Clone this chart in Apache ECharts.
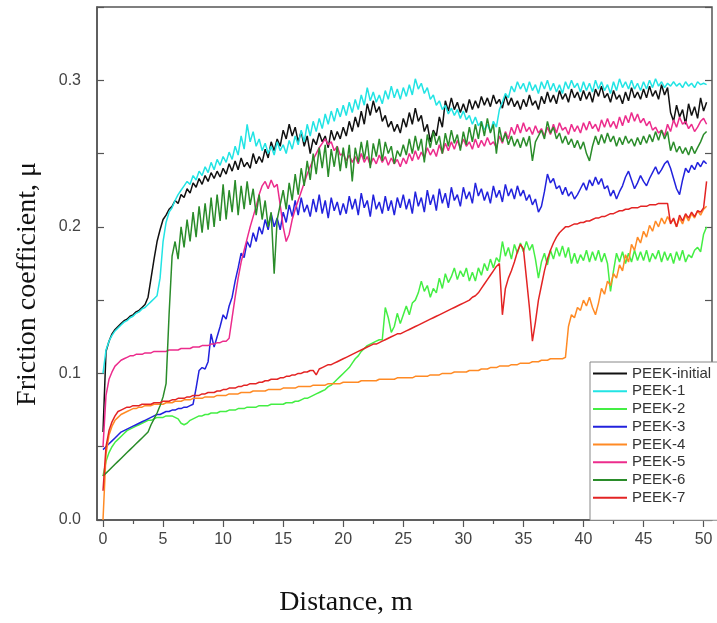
<!DOCTYPE html>
<html><head><meta charset="utf-8">
<script src="https://cdn.jsdelivr.net/npm/echarts@6/dist/echarts.min.js"></script>
<style>html,body{margin:0;padding:0;background:#fff}#c{width:717px;height:623px}</style>
</head><body><div id="c"></div>
<script>
// Sampling positions (m)
const distance = [
0,0.25,0.5,0.75,1,1.25,1.5,1.75,2,2.25,2.5,2.75,3,3.25,3.5,3.75,4,4.25,4.5,4.75,
5,5.25,5.5,5.75,6,6.25,6.5,6.75,7,7.25,7.5,7.75,8,8.25,8.5,8.75,9,9.25,9.5,9.75,
10,10.25,10.5,10.75,11,11.25,11.5,11.75,12,12.25,12.5,12.75,13,13.25,13.5,13.75,14,14.25,14.5,14.75,
15,15.25,15.5,15.75,16,16.25,16.5,16.75,17,17.25,17.5,17.75,18,18.25,18.5,18.75,19,19.25,19.5,19.75,
20,20.25,20.5,20.75,21,21.25,21.5,21.75,22,22.25,22.5,22.75,23,23.25,23.5,23.75,24,24.25,24.5,24.75,
25,25.25,25.5,25.75,26,26.25,26.5,26.75,27,27.25,27.5,27.75,28,28.25,28.5,28.75,29,29.25,29.5,29.75,
30,30.25,30.5,30.75,31,31.25,31.5,31.75,32,32.25,32.5,32.75,33,33.25,33.5,33.75,34,34.25,34.5,34.75,
35,35.25,35.5,35.75,36,36.25,36.5,36.75,37,37.25,37.5,37.75,38,38.25,38.5,38.75,39,39.25,39.5,39.75,
40,40.25,40.5,40.75,41,41.25,41.5,41.75,42,42.25,42.5,42.75,43,43.25,43.5,43.75,44,44.25,44.5,44.75,
45,45.25,45.5,45.75,46,46.25,46.5,46.75,47,47.25,47.5,47.75,48,48.25,48.5,48.75,49,49.25,49.5,49.75,
50,50.25];

const peekInitial = [
0.06,0.115,0.122,0.127,0.13,0.132,0.134,0.136,0.137,0.139,0.14,0.142,0.143,0.145,0.147,0.152,0.165,0.178,0.19,0.198,
0.205,0.208,0.212,0.214,0.218,0.216,0.222,0.22,0.226,0.223,0.23,0.227,0.233,0.229,0.235,0.231,0.237,0.233,0.238,0.234,
0.24,0.236,0.243,0.238,0.245,0.239,0.247,0.241,0.244,0.24,0.25,0.243,0.248,0.244,0.253,0.247,0.258,0.252,0.26,0.255,
0.266,0.26,0.27,0.262,0.268,0.258,0.265,0.255,0.262,0.25,0.26,0.256,0.264,0.258,0.262,0.254,0.266,0.259,0.265,0.26,
0.268,0.262,0.272,0.265,0.275,0.268,0.279,0.27,0.284,0.276,0.286,0.278,0.282,0.272,0.276,0.268,0.272,0.265,0.27,0.264,
0.274,0.268,0.278,0.27,0.281,0.272,0.276,0.265,0.27,0.258,0.266,0.262,0.275,0.268,0.286,0.279,0.288,0.28,0.285,0.278,
0.284,0.278,0.287,0.28,0.286,0.281,0.289,0.283,0.288,0.282,0.29,0.284,0.287,0.281,0.29,0.283,0.288,0.282,0.286,0.28,
0.287,0.282,0.29,0.283,0.286,0.28,0.289,0.284,0.292,0.285,0.29,0.284,0.293,0.287,0.291,0.285,0.294,0.288,0.292,0.286,
0.293,0.287,0.292,0.285,0.294,0.289,0.296,0.288,0.291,0.285,0.293,0.287,0.29,0.284,0.292,0.286,0.295,0.288,0.292,0.287,
0.294,0.288,0.296,0.289,0.293,0.287,0.297,0.29,0.295,0.278,0.272,0.283,0.275,0.28,0.27,0.284,0.276,0.282,0.274,0.288,
0.279,0.285];

const peek1 = [
0.1,0.116,0.122,0.126,0.129,0.131,0.133,0.135,0.136,0.138,0.139,0.141,0.142,0.144,0.145,0.147,0.149,0.151,0.153,0.165,
0.19,0.203,0.21,0.213,0.218,0.222,0.225,0.228,0.231,0.229,0.235,0.232,0.238,0.235,0.241,0.237,0.244,0.239,0.246,0.242,
0.248,0.244,0.251,0.246,0.255,0.249,0.262,0.253,0.27,0.258,0.265,0.255,0.26,0.252,0.257,0.25,0.255,0.249,0.258,0.252,
0.256,0.25,0.259,0.253,0.262,0.256,0.266,0.258,0.27,0.262,0.272,0.265,0.274,0.267,0.277,0.27,0.279,0.272,0.281,0.275,
0.283,0.276,0.285,0.278,0.287,0.28,0.29,0.283,0.295,0.286,0.292,0.285,0.29,0.284,0.293,0.287,0.296,0.288,0.294,0.287,
0.295,0.289,0.297,0.29,0.301,0.294,0.298,0.291,0.295,0.287,0.29,0.283,0.286,0.28,0.283,0.277,0.281,0.276,0.28,0.274,
0.279,0.273,0.276,0.27,0.275,0.269,0.272,0.266,0.27,0.265,0.272,0.268,0.28,0.285,0.291,0.288,0.296,0.292,0.299,0.294,
0.298,0.292,0.299,0.293,0.297,0.291,0.299,0.294,0.3,0.293,0.298,0.292,0.297,0.291,0.299,0.294,0.3,0.295,0.298,0.292,
0.299,0.293,0.298,0.292,0.3,0.294,0.299,0.293,0.297,0.291,0.299,0.293,0.301,0.295,0.299,0.294,0.3,0.294,0.298,0.293,
0.299,0.294,0.3,0.295,0.301,0.296,0.299,0.295,0.298,0.296,0.299,0.296,0.298,0.295,0.299,0.296,0.298,0.295,0.299,0.297,
0.298,0.297];

const peek2 = [
0.03,0.04,0.046,0.05,0.053,0.055,0.057,0.059,0.061,0.062,0.063,0.064,0.065,0.066,0.067,0.068,0.068,0.069,0.07,0.07,
0.07,0.071,0.071,0.071,0.07,0.069,0.066,0.065,0.066,0.068,0.069,0.07,0.071,0.071,0.072,0.072,0.073,0.073,0.073,0.074,
0.074,0.074,0.075,0.075,0.075,0.076,0.076,0.076,0.077,0.077,0.077,0.077,0.078,0.078,0.078,0.078,0.079,0.079,0.079,0.079,
0.079,0.08,0.08,0.08,0.081,0.081,0.082,0.083,0.083,0.084,0.085,0.086,0.087,0.088,0.089,0.091,0.092,0.094,0.096,0.098,
0.1,0.102,0.104,0.107,0.11,0.112,0.115,0.117,0.119,0.12,0.121,0.122,0.123,0.123,0.145,0.138,0.128,0.132,0.141,0.134,
0.14,0.146,0.14,0.148,0.15,0.155,0.163,0.156,0.16,0.152,0.158,0.155,0.165,0.158,0.168,0.162,0.166,0.172,0.164,0.17,
0.166,0.172,0.163,0.169,0.163,0.172,0.167,0.175,0.17,0.178,0.172,0.179,0.176,0.19,0.18,0.186,0.178,0.188,0.182,0.189,
0.183,0.19,0.184,0.188,0.178,0.165,0.176,0.182,0.174,0.184,0.178,0.186,0.18,0.187,0.179,0.186,0.175,0.182,0.175,0.181,
0.177,0.184,0.176,0.183,0.177,0.184,0.176,0.182,0.175,0.156,0.17,0.182,0.176,0.183,0.175,0.182,0.176,0.184,0.177,0.183,
0.177,0.184,0.176,0.182,0.178,0.184,0.176,0.183,0.177,0.182,0.175,0.183,0.177,0.184,0.176,0.181,0.179,0.184,0.186,0.183,
0.195,0.2];

const peek3 = [
0.048,0.05,0.052,0.054,0.056,0.058,0.06,0.061,0.062,0.063,0.064,0.065,0.066,0.067,0.068,0.069,0.07,0.071,0.072,0.072,
0.073,0.074,0.074,0.075,0.075,0.076,0.076,0.077,0.077,0.078,0.079,0.09,0.102,0.104,0.103,0.108,0.127,0.118,0.125,0.132,
0.14,0.137,0.146,0.152,0.163,0.172,0.182,0.179,0.19,0.186,0.196,0.19,0.2,0.195,0.205,0.198,0.209,0.2,0.206,0.198,
0.21,0.203,0.215,0.207,0.218,0.208,0.22,0.21,0.215,0.207,0.219,0.21,0.222,0.209,0.218,0.206,0.22,0.211,0.217,0.208,
0.216,0.209,0.221,0.212,0.219,0.208,0.223,0.213,0.218,0.207,0.222,0.212,0.217,0.209,0.221,0.211,0.218,0.208,0.22,0.213,
0.222,0.212,0.219,0.209,0.224,0.214,0.22,0.21,0.225,0.215,0.222,0.211,0.226,0.216,0.223,0.213,0.227,0.218,0.222,0.214,
0.227,0.219,0.224,0.216,0.23,0.221,0.226,0.218,0.224,0.216,0.228,0.22,0.225,0.217,0.229,0.221,0.226,0.219,0.228,0.221,
0.225,0.218,0.222,0.215,0.219,0.21,0.214,0.224,0.236,0.23,0.233,0.226,0.228,0.222,0.227,0.221,0.224,0.219,0.222,0.226,
0.23,0.225,0.232,0.228,0.234,0.229,0.233,0.226,0.228,0.221,0.225,0.219,0.224,0.228,0.234,0.238,0.232,0.226,0.23,0.235,
0.231,0.228,0.233,0.237,0.241,0.236,0.239,0.243,0.245,0.24,0.233,0.226,0.222,0.232,0.24,0.237,0.242,0.239,0.244,0.241,
0.245,0.243];

const peek4 = [
0.0,0.045,0.058,0.064,0.068,0.07,0.072,0.073,0.074,0.075,0.076,0.076,0.077,0.077,0.078,0.078,0.078,0.079,0.079,0.079,
0.079,0.08,0.08,0.08,0.081,0.081,0.081,0.082,0.082,0.082,0.083,0.083,0.083,0.083,0.084,0.084,0.084,0.084,0.085,0.085,
0.085,0.085,0.086,0.086,0.086,0.086,0.087,0.087,0.087,0.087,0.088,0.088,0.088,0.088,0.088,0.089,0.089,0.089,0.089,0.089,
0.09,0.09,0.09,0.09,0.09,0.091,0.091,0.091,0.091,0.091,0.092,0.092,0.092,0.092,0.092,0.093,0.093,0.093,0.093,0.093,
0.094,0.094,0.094,0.094,0.094,0.094,0.095,0.095,0.095,0.095,0.095,0.095,0.096,0.096,0.096,0.096,0.096,0.096,0.097,0.097,
0.097,0.097,0.097,0.097,0.098,0.098,0.098,0.098,0.098,0.099,0.099,0.099,0.099,0.1,0.1,0.1,0.1,0.101,0.101,0.101,
0.101,0.101,0.102,0.102,0.102,0.102,0.103,0.103,0.103,0.104,0.104,0.104,0.105,0.105,0.105,0.105,0.106,0.106,0.106,0.107,
0.107,0.107,0.107,0.108,0.108,0.108,0.109,0.109,0.109,0.11,0.11,0.11,0.11,0.11,0.111,0.132,0.14,0.138,0.145,0.143,
0.15,0.146,0.152,0.145,0.14,0.148,0.158,0.154,0.163,0.16,0.168,0.165,0.174,0.17,0.181,0.176,0.188,0.184,0.193,0.189,
0.197,0.193,0.201,0.197,0.204,0.2,0.206,0.202,0.207,0.203,0.205,0.2,0.206,0.202,0.208,0.204,0.209,0.206,0.211,0.208,
0.212,0.214];

const peek5 = [
0.05,0.085,0.096,0.101,0.105,0.107,0.109,0.11,0.111,0.112,0.112,0.113,0.113,0.113,0.114,0.114,0.114,0.115,0.115,0.115,
0.115,0.115,0.116,0.116,0.116,0.116,0.117,0.117,0.117,0.117,0.118,0.118,0.118,0.119,0.119,0.119,0.12,0.12,0.121,0.121,
0.122,0.122,0.124,0.138,0.152,0.165,0.176,0.184,0.192,0.2,0.207,0.214,0.222,0.228,0.231,0.226,0.232,0.227,0.229,0.215,
0.2,0.19,0.195,0.205,0.212,0.218,0.224,0.23,0.236,0.241,0.246,0.25,0.254,0.257,0.26,0.256,0.258,0.252,0.255,0.249,
0.25,0.245,0.249,0.244,0.248,0.243,0.25,0.244,0.248,0.242,0.247,0.243,0.249,0.244,0.248,0.242,0.247,0.243,0.246,0.241,
0.247,0.243,0.25,0.245,0.252,0.246,0.251,0.247,0.254,0.249,0.253,0.248,0.256,0.25,0.257,0.252,0.258,0.253,0.259,0.254,
0.26,0.255,0.258,0.253,0.26,0.254,0.259,0.255,0.261,0.256,0.258,0.254,0.262,0.257,0.265,0.26,0.268,0.263,0.27,0.264,
0.271,0.265,0.268,0.263,0.269,0.264,0.267,0.262,0.268,0.263,0.27,0.264,0.271,0.266,0.268,0.263,0.27,0.265,0.269,0.264,
0.271,0.266,0.272,0.267,0.27,0.265,0.273,0.268,0.274,0.268,0.272,0.267,0.275,0.269,0.276,0.271,0.278,0.272,0.277,0.271,
0.274,0.269,0.272,0.266,0.268,0.264,0.266,0.262,0.27,0.265,0.273,0.268,0.275,0.27,0.272,0.267,0.27,0.265,0.268,0.272,
0.274,0.27];

const peek6 = [
0.03,0.032,0.034,0.036,0.038,0.04,0.042,0.044,0.046,0.048,0.05,0.052,0.054,0.056,0.058,0.06,0.065,0.069,0.073,0.078,
0.084,0.093,0.14,0.18,0.19,0.178,0.2,0.186,0.205,0.19,0.21,0.193,0.214,0.196,0.216,0.198,0.22,0.2,0.222,0.204,
0.229,0.205,0.225,0.21,0.232,0.208,0.228,0.212,0.231,0.215,0.226,0.208,0.222,0.205,0.218,0.2,0.21,0.168,0.205,0.215,
0.225,0.212,0.23,0.218,0.236,0.222,0.24,0.228,0.245,0.232,0.25,0.236,0.254,0.24,0.256,0.234,0.253,0.241,0.255,0.238,
0.254,0.24,0.256,0.231,0.254,0.244,0.258,0.246,0.259,0.24,0.257,0.248,0.26,0.245,0.258,0.25,0.255,0.243,0.252,0.248,
0.256,0.249,0.26,0.25,0.262,0.252,0.26,0.244,0.263,0.254,0.265,0.256,0.262,0.25,0.264,0.255,0.266,0.257,0.263,0.252,
0.265,0.256,0.268,0.258,0.27,0.26,0.272,0.262,0.274,0.264,0.27,0.25,0.268,0.258,0.264,0.256,0.262,0.255,0.26,0.254,
0.261,0.255,0.262,0.245,0.258,0.262,0.266,0.26,0.272,0.264,0.268,0.26,0.264,0.257,0.262,0.256,0.26,0.254,0.259,0.253,
0.258,0.25,0.245,0.255,0.262,0.256,0.263,0.257,0.264,0.258,0.262,0.255,0.261,0.256,0.262,0.257,0.26,0.255,0.261,0.256,
0.262,0.257,0.263,0.258,0.265,0.259,0.266,0.26,0.265,0.252,0.258,0.251,0.255,0.25,0.254,0.249,0.255,0.25,0.254,0.258,
0.263,0.265];

const peek7 = [
0.02,0.05,0.061,0.067,0.071,0.074,0.075,0.076,0.077,0.077,0.078,0.078,0.078,0.079,0.079,0.079,0.079,0.08,0.08,0.08,
0.081,0.081,0.081,0.082,0.082,0.083,0.083,0.083,0.084,0.084,0.085,0.085,0.085,0.086,0.086,0.087,0.087,0.087,0.088,0.088,
0.089,0.089,0.09,0.09,0.09,0.091,0.091,0.092,0.092,0.093,0.093,0.093,0.094,0.094,0.095,0.095,0.096,0.096,0.096,0.097,
0.097,0.098,0.098,0.099,0.099,0.1,0.1,0.101,0.101,0.102,0.102,0.099,0.103,0.104,0.105,0.106,0.106,0.107,0.108,0.109,
0.11,0.111,0.112,0.113,0.114,0.115,0.116,0.117,0.118,0.119,0.12,0.12,0.121,0.122,0.123,0.124,0.125,0.126,0.127,0.127,
0.128,0.129,0.13,0.131,0.132,0.133,0.134,0.135,0.136,0.137,0.138,0.139,0.14,0.141,0.142,0.143,0.144,0.145,0.146,0.147,
0.148,0.149,0.15,0.152,0.153,0.155,0.158,0.161,0.164,0.167,0.17,0.173,0.175,0.14,0.158,0.165,0.17,0.176,0.183,0.188,
0.185,0.165,0.145,0.122,0.135,0.15,0.16,0.17,0.178,0.184,0.189,0.193,0.196,0.198,0.2,0.2,0.201,0.202,0.202,0.203,
0.203,0.204,0.204,0.205,0.206,0.206,0.207,0.207,0.208,0.209,0.209,0.21,0.211,0.211,0.212,0.212,0.213,0.213,0.213,0.214,
0.214,0.214,0.215,0.215,0.215,0.216,0.216,0.216,0.216,0.202,0.206,0.2,0.208,0.204,0.209,0.206,0.21,0.207,0.211,0.21,
0.213,0.231];

const seriesNames = ['PEEK-initial','PEEK-1','PEEK-2','PEEK-3','PEEK-4','PEEK-5','PEEK-6','PEEK-7'];
const seriesValues = [peekInitial, peek1, peek2, peek3, peek4, peek5, peek6, peek7];
const seriesColors = ['#111111','#22e4e4','#44ee44','#2222dd','#ff8a24','#ec2c8c','#2a8c2a','#e32424'];

const xMajorTicks = [0,5,10,15,20,25,30,35,40,45,50];
const xMinorTicks = [2.5,7.5,12.5,17.5,22.5,27.5,32.5,37.5,42.5,47.5];
const yTickLabels = ['0.0','0.1','0.2','0.3'];

const chart = echarts.init(document.getElementById('c'), null, {renderer:'canvas'});
const axisGray = '#555';
const series = seriesNames.map((n, k) => ({
  name: n, type: 'line', xAxisIndex: 0, yAxisIndex: 0,
  symbol: 'none', showSymbol: false, animation: false,
  lineStyle: {width: 1.5, color: seriesColors[k]},
  itemStyle: {color: seriesColors[k]},
  data: distance.map((d, i) => [d, seriesValues[k][i]])
}));

chart.setOption({
  animation: false,
  backgroundColor: '#fff',
  grid: {left: 97, right: 5, top: 7, bottom: 103, show: true, borderColor: axisGray, borderWidth: 1.5, containLabel: false},
  xAxis: [
    {type: 'value', min: -0.5, max: 50.7, position: 'bottom',
     axisLine: {show: true, onZero: false, lineStyle: {color: axisGray, width: 1.5}},
     axisTick: {show: true, inside: false, length: 7, customValues: xMajorTicks, lineStyle: {color: axisGray, width: 1.2}},
     axisLabel: {show: true, customValues: xMajorTicks, margin: 12, fontSize: 16, color: '#444', fontFamily: 'Liberation Sans'},
     splitLine: {show: false}},
    {type: 'value', min: -0.5, max: 50.7, position: 'bottom', gridIndex: 0,
     axisLine: {show: false, onZero: false},
     axisTick: {show: true, inside: false, length: 4, customValues: xMinorTicks, lineStyle: {color: axisGray, width: 1.2}},
     axisLabel: {show: false}, splitLine: {show: false}}
  ],
  yAxis: [
    {type: 'value', min: 0, max: 0.35, interval: 0.05, position: 'left',
     axisLine: {show: true, onZero: false, lineStyle: {color: axisGray, width: 1.5}},
     axisTick: {show: true, inside: true, length: 7, lineStyle: {color: axisGray, width: 1.2}},
     axisLabel: {margin: 16, fontSize: 16, color: '#444', fontFamily: 'Liberation Sans',
       formatter: v => { const r = Math.round(v * 100); return (r % 10 === 0 && r <= 30) ? yTickLabels[r / 10] : ''; }},
     splitLine: {show: false}},
    {type: 'value', min: 0, max: 0.35, interval: 0.05, position: 'right',
     axisLine: {show: false, onZero: false},
     axisTick: {show: true, inside: true, length: 7, lineStyle: {color: axisGray, width: 1.2}},
     axisLabel: {show: false}, splitLine: {show: false}}
  ],
  legend: {
    orient: 'vertical', left: 590, top: 362,
    data: seriesNames.map(n => ({name: n, icon: 'rect'})),
    itemWidth: 34, itemHeight: 2, itemGap: 2.75,
    padding: [4, 24, 15, 3],
    borderColor: '#888', borderWidth: 1, backgroundColor: '#fff',
    textStyle: {fontSize: 15, lineHeight: 15, color: '#333', fontFamily: 'Liberation Sans'}
  },
  graphic: [
    {type: 'text', x: 28, y: 284, rotation: Math.PI / 2,
     style: {text: 'Friction coefficient, μ', font: '28px "Liberation Serif"', fill: '#111', align: 'center', verticalAlign: 'middle'}},
    {type: 'text', x: 346, y: 603,
     style: {text: 'Distance, m', font: '28px "Liberation Serif"', fill: '#111', align: 'center', verticalAlign: 'middle'}}
  ],
  series: series
});
</script>
</body></html>
